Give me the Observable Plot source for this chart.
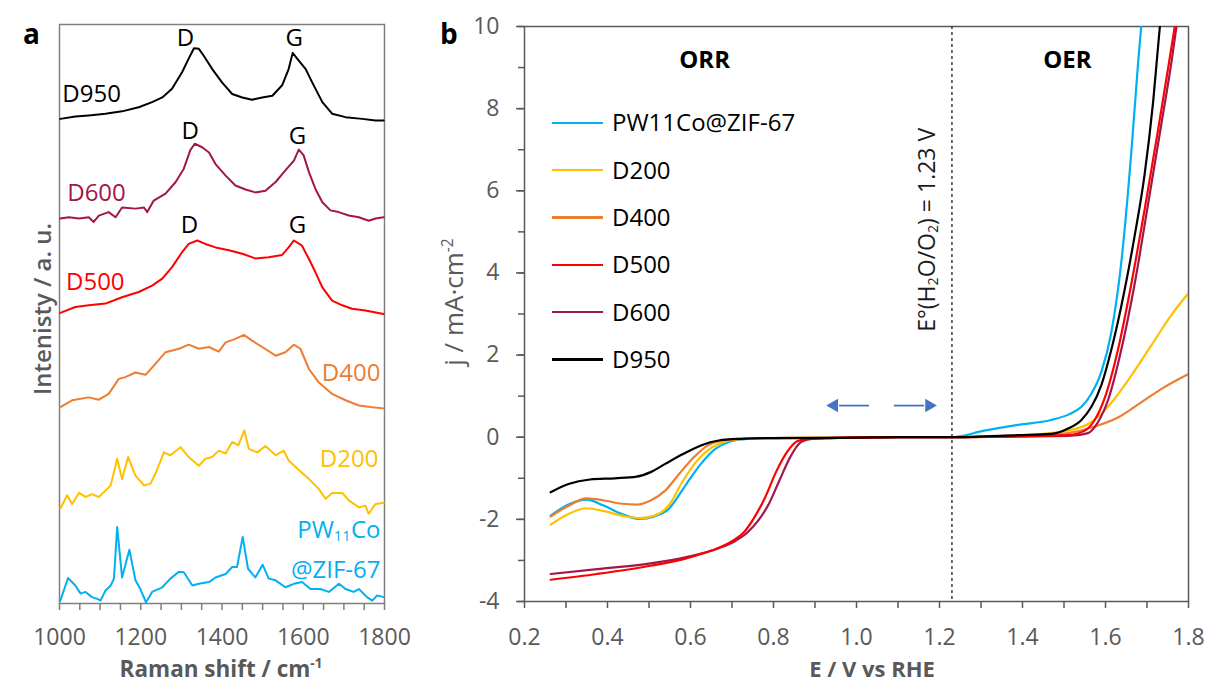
<!DOCTYPE html>
<html><head><meta charset="utf-8">
<script src="https://cdn.jsdelivr.net/npm/d3@7"></script>
<script src="https://cdn.jsdelivr.net/npm/@observablehq/plot@0.6"></script>
<style>
body{margin:0;background:#fff;font-family:"Open Sans",sans-serif;}
#wrap{position:relative;width:1208px;height:683px;overflow:hidden;background:#fff;}
.abs{position:absolute;white-space:nowrap;line-height:1;}
.panel{position:absolute;top:0;}
</style></head><body><div id="wrap"></div>
<script>
// ---------- Panel a: Raman spectra (stacked, arbitrary units) ----------
const ramanTicks = [1000, 1200, 1400, 1600, 1800];
const d950Shift = [1002,1039,1072,1113,1154,1195,1228,1253,1277,1302,1318,1331,1343,1355,1376,1400,1425,1450,1474,1499,1524,1548,1564,1574,1585,1606,1622,1647,1671,1704,1745,1778,1798];
const d950Int   = [83.7,84.1,84.3,84.6,85.0,85.7,86.6,87.4,88.9,91.8,94.1,95.9,95.8,94.6,92.3,90.0,88.0,87.4,87.0,87.4,87.7,89.5,92.3,95.1,94.1,92.3,90.0,86.6,84.6,84.0,83.7,83.4,83.4];
const d600Shift = [1002,1023,1048,1072,1084,1097,1121,1138,1154,1187,1208,1216,1232,1261,1286,1306,1322,1333,1351,1368,1384,1409,1433,1458,1482,1507,1532,1556,1577,1589,1601,1614,1630,1647,1667,1687,1712,1737,1761,1778,1798];
const d600Int   = [66.5,66.7,66.5,66.7,65.9,67.0,67.6,66.7,68.4,68.2,68.4,67.6,69.6,70.8,72.8,75.1,78.3,79.4,78.8,77.9,75.9,73.9,72.2,71.5,71.0,71.3,72.8,74.8,76.5,78.4,77.4,74.5,71.6,69.3,67.9,67.6,67.0,66.7,66.1,66.5,66.7];
const d500Shift = [1002,1039,1072,1113,1154,1195,1228,1253,1277,1302,1318,1339,1359,1384,1417,1450,1482,1515,1548,1564,1577,1597,1614,1630,1647,1671,1696,1720,1753,1798];
const d500Int   = [50.2,51.2,51.5,51.8,52.9,53.8,54.9,56.1,58.1,60.7,62.1,62.7,62.1,61.5,61.0,60.4,59.6,59.8,60.2,61.5,62.7,61.8,59.5,57.2,54.6,52.3,51.5,50.9,50.6,50.0];
const d400Shift = [1002,1031,1072,1097,1121,1146,1162,1187,1212,1236,1261,1294,1318,1343,1368,1392,1409,1433,1454,1474,1499,1532,1556,1577,1593,1614,1638,1671,1704,1737,1770,1798];
const d400Int   = [33.9,35.1,35.6,35.2,36.2,38.8,39.1,39.9,39.5,41.4,43.4,44.0,44.7,44.0,44.3,43.5,45.1,45.7,46.4,45.4,44.3,42.8,43.4,44.7,44.0,40.5,38.2,36.2,35.1,34.2,33.9,33.7];
const d200Shift = [1002,1019,1031,1048,1064,1080,1097,1113,1126,1142,1154,1169,1187,1208,1224,1236,1257,1273,1298,1318,1343,1359,1376,1392,1409,1425,1440,1455,1466,1487,1507,1532,1552,1564,1585,1614,1638,1655,1671,1696,1712,1737,1753,1761,1778,1798];
const d200Int   = [16.4,18.7,17.2,19.1,18.4,18.9,18.4,19.5,20.4,25.0,21.5,25.3,22.1,20.4,20.7,22.4,26.1,25.6,27.0,25.3,23.8,25.0,25.3,26.4,25.9,27.9,27.3,29.9,26.7,26.1,27.2,25.6,26.4,24.7,23.3,21.5,19.8,18.1,19.1,19.1,17.8,16.6,16.9,15.5,17.2,17.4];
const pwShift   = [1002,1021,1039,1052,1064,1080,1093,1101,1113,1126,1134,1142,1154,1172,1187,1199,1213,1228,1253,1273,1294,1306,1327,1343,1368,1384,1409,1425,1437,1451,1464,1482,1500,1515,1532,1556,1577,1597,1618,1642,1663,1688,1704,1724,1737,1757,1770,1782,1798];
const pwInt     = [0.5,4.4,3.1,1.7,2.0,1.1,0.8,0.5,2.2,3.1,4.3,13.2,4.5,9.3,4.0,2.5,0.2,2.0,2.8,4.3,5.5,5.4,3.1,3.4,3.7,4.5,5.1,6.3,6.3,11.5,6.0,4.5,6.7,4.3,4.0,2.8,3.4,3.7,2.5,2.5,2.0,3.4,2.5,2.0,2.5,1.1,0.5,1.4,1.1];

const sampleNames  = ["PW11Co@ZIF-67", "D200", "D400", "D500", "D600", "D950"];
const sampleColors = ["#00b0f0", "#ffc000", "#ed7d31", "#ff0000", "#a3164a", "#000000"];

// series labels in panel a
const ramanLabelText   = ["D950", "D600", "D500", "D400", "D200", "PW11Co", "@ZIF-67"];
const ramanLabelShift  = [1007, 1019, 1016, 1790, 1785, 1790, 1790];
const ramanLabelInt    = [88.0, 70.9, 55.5, 39.7, 24.9, 12.7, 5.8];
const ramanLabelColor  = ["#000000", "#a3164a", "#ff0000", "#ed7d31", "#ffc000", "#00b0f0", "#00b0f0"];
const ramanLabelAnchor = ["start", "start", "start", "end", "end", "end", "end"];
// D / G band labels
const bandText  = ["D", "G", "D", "G", "D", "G"];
const bandShift = [1310, 1578, 1322, 1586, 1320, 1586];
const bandInt   = [97.6, 97.6, 81.5, 80.7, 65.3, 65.3];

// ---------- Panel b: LSV curves ----------
const eTicks = [0.2, 0.4, 0.6, 0.8, 1.0, 1.2, 1.4, 1.6, 1.8];
const jTicks = [-4, -2, 0, 2, 4, 6, 8, 10];
const E_PW   = [0.263,0.306,0.349,0.392,0.435,0.478,0.513,0.547,0.590,0.625,0.659,0.694,0.737,0.80,0.90,1.0,1.1,1.228,1.308,1.389,1.469,1.510,1.542,1.566,1.590,1.614,1.638,1.662,1.678,1.686];
const J_PW   = [-1.91,-1.64,-1.52,-1.67,-1.87,-1.99,-1.93,-1.75,-1.14,-0.65,-0.29,-0.11,-0.04,-0.02,-0.01,-0.01,0,0,0.16,0.30,0.42,0.55,0.74,1.06,1.59,2.55,4.25,6.91,9.04,10];
const E_D200 = [0.263,0.306,0.349,0.392,0.435,0.478,0.513,0.547,0.582,0.616,0.651,0.685,0.728,0.80,0.90,1.0,1.1,1.228,1.389,1.510,1.566,1.606,1.654,1.710,1.759,1.80];
const J_D200 = [-2.13,-1.87,-1.73,-1.80,-1.91,-1.97,-1.91,-1.67,-1.06,-0.57,-0.25,-0.10,-0.04,-0.02,-0.01,-0.01,0,0,0.04,0.16,0.37,0.74,1.38,2.23,2.98,3.51];
const E_D400 = [0.263,0.306,0.349,0.392,0.435,0.470,0.504,0.539,0.573,0.608,0.642,0.676,0.720,0.80,0.90,1.0,1.1,1.228,1.389,1.510,1.574,1.630,1.686,1.742,1.80];
const J_D400 = [-1.93,-1.67,-1.49,-1.54,-1.62,-1.64,-1.54,-1.30,-0.89,-0.49,-0.20,-0.08,-0.04,-0.02,-0.01,-0.01,0,0,0.02,0.10,0.26,0.48,0.85,1.22,1.54];
const E_D500 = [0.263,0.375,0.504,0.590,0.651,0.702,0.728,0.754,0.780,0.806,0.832,0.857,0.883,0.935,1.0,1.1,1.228,1.389,1.510,1.550,1.574,1.598,1.630,1.662,1.694,1.726,1.750,1.767];
const J_D500 = [-3.47,-3.33,-3.13,-2.95,-2.76,-2.52,-2.32,-1.95,-1.46,-0.85,-0.37,-0.10,-0.04,-0.02,-0.01,0,0,0.02,0.05,0.16,0.42,0.95,2.13,3.72,5.53,7.44,8.93,10];
const E_D600 = [0.263,0.375,0.504,0.590,0.651,0.702,0.737,0.763,0.789,0.814,0.840,0.866,0.892,0.935,1.0,1.1,1.228,1.389,1.510,1.558,1.582,1.606,1.638,1.670,1.702,1.735,1.759,1.771];
const J_D600 = [-3.33,-3.21,-3.07,-2.92,-2.76,-2.56,-2.32,-2.03,-1.62,-1.06,-0.49,-0.12,-0.04,-0.02,-0.01,0,0,0.02,0.03,0.10,0.37,0.90,2.13,3.72,5.64,7.65,9.14,10];
const E_D950 = [0.263,0.306,0.358,0.418,0.470,0.504,0.539,0.582,0.625,0.668,0.720,0.806,0.892,1.0,1.1,1.228,1.389,1.469,1.510,1.542,1.566,1.590,1.614,1.638,1.670,1.694,1.715,1.731];
const J_D950 = [-1.34,-1.14,-1.03,-1.00,-0.96,-0.85,-0.65,-0.41,-0.20,-0.08,-0.04,-0.02,-0.02,-0.01,0,0,0.05,0.08,0.21,0.42,0.74,1.27,2.13,3.19,4.89,6.38,8.19,10];

const eStandard = 1.23;
const regionText = ["ORR", "OER"];
const regionE = [0.634, 1.508];
const regionJ = [9.17, 9.17];
const eqLabelE = 1.1725, eqLabelJ = 5.05;
const arrowFromE = [1.030, 1.090];
const arrowToE   = [0.958, 1.163];
const arrowHeadE = [0.946, 1.175];
const arrowHeadRot = [-90, 90];
const arrowJ = 0.77;

// ---------- build tables ----------
const zip = (xs, ys, name, kx, ky) => xs.map((x, i) => ({[kx]: x, [ky]: ys[i], sample: name}));
const raman = [
  zip(pwShift, pwInt, "PW11Co@ZIF-67", "shift", "int"),
  zip(d200Shift, d200Int, "D200", "shift", "int"),
  zip(d400Shift, d400Int, "D400", "shift", "int"),
  zip(d500Shift, d500Int, "D500", "shift", "int"),
  zip(d600Shift, d600Int, "D600", "shift", "int"),
  zip(d950Shift, d950Int, "D950", "shift", "int")
];
const lsvOrder = [0, 1, 2, 4, 3, 5];
const lsvRaw = [
  zip(E_PW, J_PW, "PW11Co@ZIF-67", "E", "j"),
  zip(E_D200, J_D200, "D200", "E", "j"),
  zip(E_D400, J_D400, "D400", "E", "j"),
  zip(E_D500, J_D500, "D500", "E", "j"),
  zip(E_D600, J_D600, "D600", "E", "j"),
  zip(E_D950, J_D950, "D950", "E", "j")
];
const ramanLabels = ramanLabelText.map((t, i) => ({text: t, shift: ramanLabelShift[i], int: ramanLabelInt[i], color: ramanLabelColor[i], anchor: ramanLabelAnchor[i]}));
const bands = bandText.map((t, i) => ({text: t, shift: bandShift[i], int: bandInt[i]}));
const regions = regionText.map((t, i) => ({text: t, E: regionE[i], j: regionJ[i]}));
const arrows = arrowFromE.map((e, i) => ({from: e, to: arrowToE[i], head: arrowHeadE[i], rot: arrowHeadRot[i], j: arrowJ}));

const baseStyle = {fontFamily: "Open Sans", fontSize: "23px", color: "#595959", background: "transparent", overflow: "visible"};

// ---------- Panel a ----------
const panelA = Plot.plot({
  width: 400, height: 683,
  marginLeft: 59, marginRight: 16, marginTop: 24, marginBottom: 80,
  x: {domain: [1000, 1800]},
  y: {domain: [0, 100], axis: null},
  style: baseStyle,
  color: {type: "identity"},
  marks: [
    Plot.frame({stroke: "#7f7f7f", strokeWidth: 1.5}),
    Plot.axisX({ticks: d3.range(1000, 1801, 50), tickFormat: () => "", tickSize: 7, stroke: "#7f7f7f", strokeWidth: 1.5, label: null}),
    Plot.axisX({ticks: ramanTicks, tickSize: 0, tickPadding: 25, tickFormat: d => String(d), fill: "#595959", label: null}),
    ...raman.map((rows, i) => Plot.line(rows, {x: "shift", y: "int", stroke: sampleColors[i], strokeWidth: 2})),
    Plot.text(ramanLabels.filter(d => d.anchor === "start"), {x: "shift", y: "int", text: "text", fill: d => d.color, textAnchor: "start", fontSize: 24}),
    Plot.text(ramanLabels.filter(d => d.anchor === "end"), {x: "shift", y: "int", text: "text", fill: d => d.color, textAnchor: "end", fontSize: 24}),
    Plot.text(bands, {x: "shift", y: "int", text: "text", fill: "#000", fontSize: 24})
  ]
});

// ---------- Panel b ----------
const panelB = Plot.plot({
  width: 808, height: 683,
  marginLeft: 124, marginRight: 20, marginTop: 26, marginBottom: 82,
  x: {domain: [0.2, 1.8]},
  y: {domain: [-4, 10]},
  style: baseStyle,
  color: {type: "identity"},
  marks: [
    Plot.frame({stroke: "#595959", strokeWidth: 1.5}),
    Plot.axisY({ticks: d3.range(-4, 11, 1), tickFormat: () => "", tickSize: 6, stroke: "#595959", strokeWidth: 1.5, label: null}),
    Plot.axisY({ticks: jTicks, tickSize: 8, tickPadding: 17, tickFormat: d => String(d), stroke: "#595959", strokeWidth: 1.5, fill: "#595959", label: null}),
    Plot.axisX({ticks: d3.range(2, 19, 1).map(d => d / 10), tickFormat: () => "", tickSize: 7, stroke: "#595959", strokeWidth: 1.5, label: null}),
    Plot.axisX({ticks: eTicks, tickSize: 0, tickPadding: 27, tickFormat: d => d.toFixed(1), fill: "#595959", label: null}),
    Plot.ruleX([eStandard], {stroke: "#222", strokeWidth: 1.3, strokeDasharray: "3,3"}),
    ...lsvOrder.map(i => Plot.line(lsvRaw[i], {x: "E", y: "j", stroke: sampleColors[i], strokeWidth: 2.2, curve: "monotone-x", clip: true})),
    Plot.link(arrows, {x1: "from", x2: "to", y1: "j", y2: "j", stroke: "#4472c4", strokeWidth: 1.8}),
    Plot.dot(arrows, {x: "head", y: "j", symbol: "triangle", r: 5, rotate: "rot", fill: "#4472c4", stroke: "none"}),
    Plot.text(regions, {x: "E", y: "j", text: "text", fill: "#000", fontWeight: "bold", fontSize: 24}),
    Plot.text([{E: eqLabelE, j: eqLabelJ}], {x: "E", y: "j", text: () => "E°(H2O/O2) = 1.23 V", rotate: -90, fill: "#1a1a1a", fontSize: 23})
  ]
});

// rich text (subscripts)
const sub = s => `<tspan baseline-shift="-0.18em" font-size="62%">${s}</tspan>`;
const richMap = {
  "PW11Co": `PW${sub("11")}Co`,
  "E°(H2O/O2) = 1.23 V": `E°(H${sub("2")}O/O${sub("2")}) = 1.23 V`
};
[panelA, panelB].forEach(svg => svg.querySelectorAll("text").forEach(t => {
  const k = t.textContent;
  if (richMap[k]) t.innerHTML = richMap[k];
}));

const wrap = document.getElementById("wrap");
panelA.classList.add("panel"); panelA.style.left = "0px";
panelB.classList.add("panel"); panelB.style.left = "400px";
wrap.appendChild(panelA);
wrap.appendChild(panelB);

// ---------- HTML overlays: panel letters, axis titles, legend ----------
function addText(html, css) {
  const d = document.createElement("div");
  d.className = "abs";
  d.innerHTML = html;
  Object.assign(d.style, css);
  wrap.appendChild(d);
  return d;
}
const supStyle = 'style="font-size:60%;position:relative;top:-0.65em;"';
addText("a", {left: "23px", top: "19px", fontSize: "28px", fontWeight: "700", color: "#000"});
addText("b", {left: "440px", top: "19px", fontSize: "28px", fontWeight: "700", color: "#000"});
addText(`Raman shift / cm<span ${supStyle}>-1</span>`, {left: "221px", top: "658px", fontSize: "22.5px", fontWeight: "700", color: "#595959", transform: "translateX(-50%)"});
addText("E / V vs RHE", {left: "872px", top: "657px", fontSize: "22px", fontWeight: "700", color: "#595959", transform: "translateX(-50%)"});
addText("Intenisty / a. u.", {left: "42px", top: "309px", fontSize: "24px", fontWeight: "600", color: "#595959", transform: "translate(-50%,-50%) rotate(-90deg)"});
addText(`j / mA·cm<span ${supStyle}>-2</span>`, {left: "453px", top: "302px", fontSize: "26px", fontWeight: "400", color: "#595959", transform: "translate(-50%,-50%) rotate(-90deg)"});

// legend
const legendTop = 123, legendStep = 47.3;
sampleNames.forEach((name, i) => {
  const y = legendTop + i * legendStep;
  const ln = document.createElement("div");
  Object.assign(ln.style, {position: "absolute", left: "552px", top: (y - 1.2) + "px", width: "51px", height: "2.4px", background: sampleColors[i]});
  wrap.appendChild(ln);
  addText(name, {left: "612px", top: (y - 12.7) + "px", fontSize: "24px", color: "#000"});
});
</script></body></html>
